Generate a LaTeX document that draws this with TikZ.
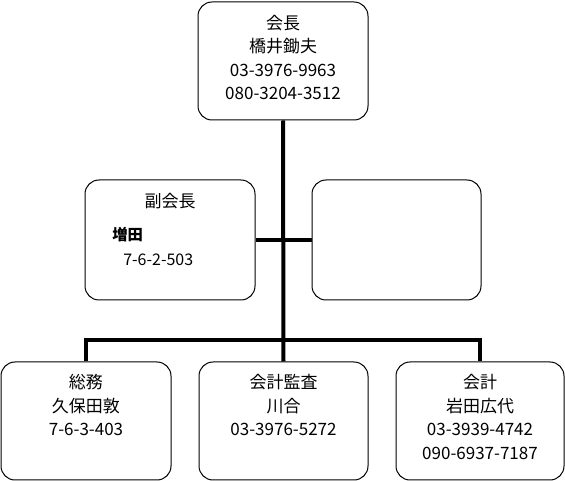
\documentclass[tikz,border=0pt]{standalone}
\usepackage{fontspec}
\setmainfont{Noto Sans CJK JP}
\usetikzlibrary{positioning}
\tikzset{
  post/.style={draw, line width=0.75pt, rounded corners=10.5pt,
    minimum width=127.5pt, minimum height=88.5pt, inner sep=0pt},
  link/.style={line width=3pt},
  names/.style={align=center, inner sep=0pt,
    font=\fontsize{12.75}{17.6}\selectfont}
}
\begin{document}
\begin{tikzpicture}[x=0.75pt,y=-0.75pt]
                \useasboundingbox (0,0) rectangle (565,481);
                % boxes
                \node[post] (kaicho) at (283,61) {};
                \node[post, minimum height=90pt] (fuku) at (170,240) {};
                \node[post, minimum height=90pt, minimum width=126.75pt] (blank) at (396.5,240) {};
                \node[post] (somu) at (86,421) {};
                \node[post, minimum width=126.75pt] (kansa) at (283.5,421) {};
                \node[post, minimum width=126pt] (kaikei) at (480,421) {};
                % lines
                \coordinate (bus) at (283,340);
                \draw[link] (kaicho.south) -- (kansa.north);
                \draw[link] (fuku.east) -- (blank.west);
                \draw[link] (somu.north) |- (bus) -| (kaikei.north);
                % texts
                \node[names] (kaichoT) at (283,57.5) {会長\\橋井鋤夫\\03-3976-9963\\080-3204-3512};
                \node[names] (fukuT) at (170,201) {副会長};
                \node[names, anchor=west, font=\fontsize{11.5}{13}\selectfont\bfseries] (fukuN) at (112,235) {増田};
                \node[names, anchor=west, font=\fontsize{12}{13}\selectfont] (fukuA) at (123,260) {7-6-2-503};
                \node[names] (somuT) at (86,405) {総務\\久保田敦\\7-6-3-403};
                \node[names] (kansaT) at (283.5,405) {会計監査\\川合\\03-3976-5272};
                \node[names] (kaikeiT) at (480,417) {会計\\岩田広代\\03-3939-4742\\090-6937-7187};
\end{tikzpicture}
\end{document}
